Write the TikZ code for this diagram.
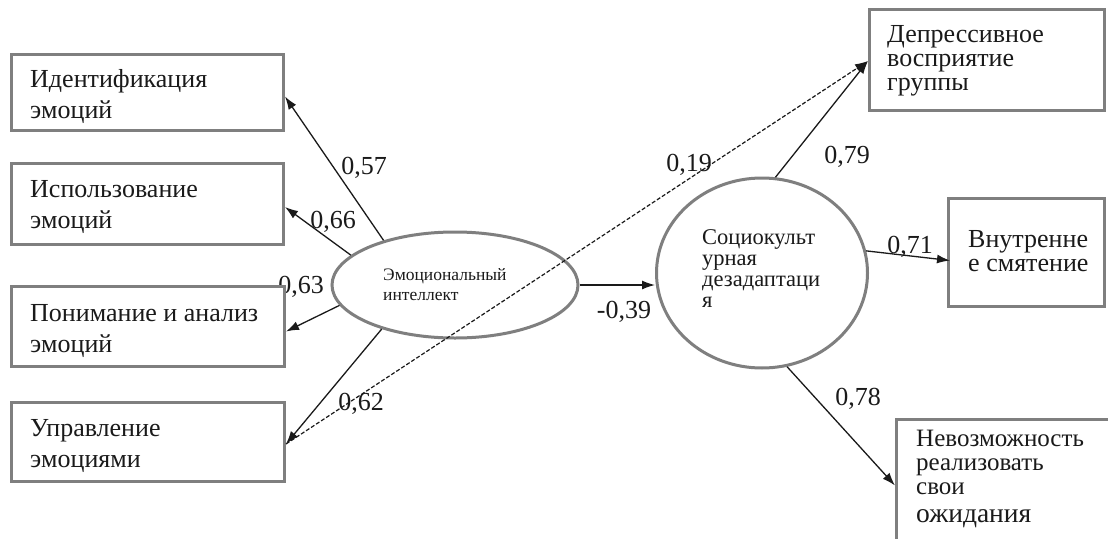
\documentclass[tikz,border=0pt]{standalone}
\usepackage{fontspec}
\setmainfont{Liberation Serif}
\usetikzlibrary{arrows.meta,calc,shapes.geometric}
\definecolor{boxgray}{HTML}{7F7F7F}
\definecolor{ink}{HTML}{1A1A1A}
\begin{document}
\begin{tikzpicture}[x=1pt,y=-1pt,
  box/.style={draw=boxgray, line width=3pt, fill=white, inner sep=0pt, anchor=north west},
  latent/.style={ellipse, draw=boxgray, line width=3pt, inner sep=0pt},
  ltext/.style={anchor=base west, align=left, inner sep=0pt, text=ink, font=\fontsize{26}{30.5}\selectfont},
  rtext/.style={anchor=base west, align=left, inner sep=0pt, text=ink, font=\fontsize{26}{24}\selectfont},
  ctext/.style={anchor=base west, align=left, inner sep=0pt, text=ink, font=\fontsize{22.5}{20.7}\selectfont},
  etext/.style={anchor=base west, align=left, inner sep=0pt, text=ink, font=\fontsize{17.5}{20}\selectfont},
  lab/.style={inner sep=0pt, text=ink, font=\fontsize{26}{26}\selectfont},
  arr/.style={-{Latex[length=13pt,width=9pt]}, line width=1.3pt, draw=ink},
  darr/.style={-{Latex[length=13pt,width=9pt]}, line width=1.2pt, draw=ink, dash pattern=on 4pt off 2pt}
]
\useasboundingbox (0,0) rectangle (1108,538);
\fill[white] (0,0) rectangle (1108,538);

% path labels (drawn first, boxes may cover them)
\node[lab] (l57) at (364,168) {0,57};
\node[lab] (l66) at (333,222) {0,66};
\node[lab] (l63) at (301,287) {0,63};
\node[lab] (l62) at (361,404) {0,62};
\node[lab] (l19) at (689,165) {0,19};
\node[lab] (l79) at (847,157) {0,79};
\node[lab] (l71) at (910,247) {0,71};
\node[lab] (l39) at (624,312) {-0,39};
\node[lab] (l78) at (858,399) {0,78};

% left boxes
\node[box, minimum width=272pt, minimum height=76pt] (b1) at (10,53) {};
\node[box, minimum width=272pt, minimum height=81pt] (b2) at (10,162) {};
\node[box, minimum width=273pt, minimum height=80pt] (b3) at (10,285) {};
\node[box, minimum width=273pt, minimum height=79pt] (b4) at (10,401) {};
% (anchor = baseline of the last line)
\node[ltext] (t1) at (30,118) {Идентификация\\эмоций};
\node[ltext] (t2) at (30,228) {Использование\\эмоций};
\node[ltext] (t3) at (30,352) {Понимание и анализ\\эмоций};
\node[ltext] (t4) at (30,467) {Управление\\эмоциями};

% right boxes
\node[box, minimum width=235pt, minimum height=101pt] (r1) at (868,8) {};
\node[box, minimum width=156pt, minimum height=108pt] (r2) at (947,197) {};
\node[box, minimum width=213pt, minimum height=122pt] (r3) at (895,418) {};
\node[rtext] (tr1) at (887,90) {Депрессивное\\восприятие\\группы};
\node[rtext] (tr2) at (968,271) {Внутренне\\е смятение};
\node[rtext, font=\fontsize{25}{24}\selectfont] (tr3) at (916,494) {Невозможность\\реализовать\\свои};
\node[rtext, font=\fontsize{27.5}{28}\selectfont] (tr3b) at (916,522) {ожидания};

% latent variables
\node[latent, minimum width=246pt, minimum height=106pt] (ei) at (455,285) {};
\node[etext] (tei) at (383,300) {Эмоциональный\\интеллект};
\node[latent, minimum width=211pt, minimum height=190pt] (sc) at (762,273) {};
\node[ctext] (tsc) at (702,307) {Социокульт\\урная\\дезадаптаци\\я};

% connectors
\draw[arr] (ei.148) -- ($(b1.east)+(0,4)$);
\draw[arr] (ei.164) -- ($(b2.east)+(0,3)$);
\draw[arr] (ei.190) -- ($(b3.east)+(0,5)$);
\draw[arr] (ei.211) -- ($(b4.east)+(0,2)$);
\draw[darr] ($(b4.east)+(0,2)$) -- ($(r1.west)+(0,1)$);
\draw[arr] (ei.east) -- (ei.east -| sc.west);
\draw[arr] (sc.82) -- ($(r1.west)+(0,1)$);
\draw[arr] (sc.12) -- ($(r2.west)+(3,8)$);
\draw[arr] (sc.285) -- ($(r3.west)+(0,5)$);
\end{tikzpicture}
\end{document}
